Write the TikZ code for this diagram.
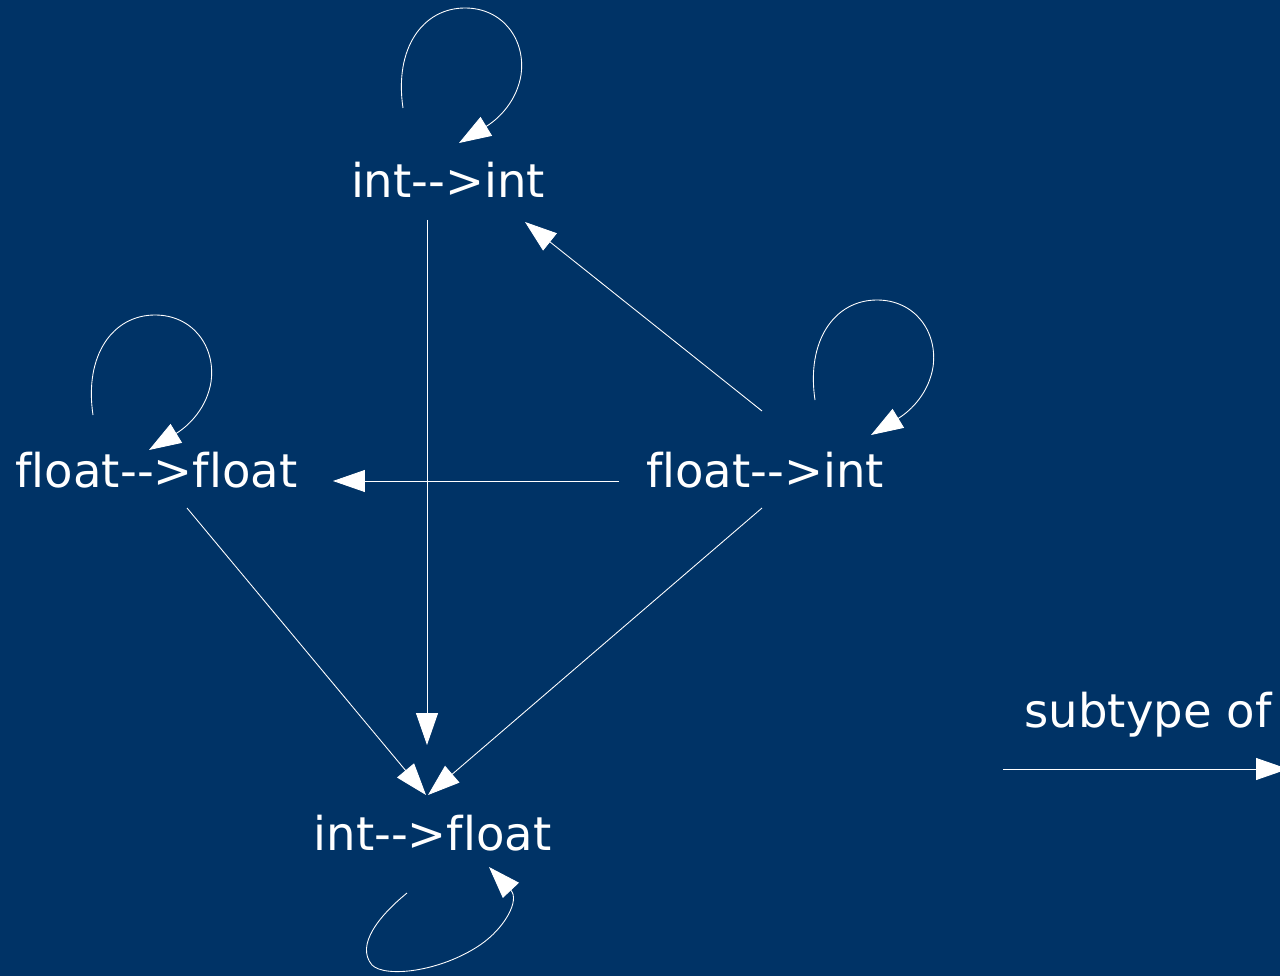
\documentclass[tikz,border=0pt]{standalone}
\usepackage{fontspec}
\setmainfont{DejaVu Sans}[Ligatures=NoCommon]
\usepackage{tikz}
\usetikzlibrary{arrows.meta}

\definecolor{navy}{RGB}{0,51,102}

\begin{document}
\begin{tikzpicture}[x=0.02cm, y=-0.02cm,
    typ/.style={text=white, inner sep=0pt, anchor=base, font=\fontsize{26.5}{30}\selectfont},
    edge/.style={draw=white, line width=0.5pt, -{Triangle[length=0.64cm, width=0.44cm]}}]
    \useasboundingbox (0,0) rectangle (1280,976);
    \fill[navy] (0,0) rectangle (1280,976);

    \node[typ] (ii) at (448,198) {int-{}->int};
    \node[typ] (ff) at (156.5,487) {float-{}->float};
    \node[typ] (fi) at (765,487) {float-{}->int};
    \node[typ] (if) at (432.5,850) {int-{}->float};
    \node[typ] (st) at (1148,727) {subtype of};

    % subtype edges
    \draw[edge] ([shift={(-21,22)}]ii.base) -- ([shift={(-5.5,-105)}]if.base);
    \draw[edge] ([shift={(-3,-76)}]fi.base) -- ([shift={(77,24)}]ii.base);
    \draw[edge] ([shift={(-146,-6)}]fi.base) -- ([shift={(176.5,-6)}]ff.base);
    \draw[edge] ([shift={(30.5,21)}]ff.base) -- ([shift={(-6.5,-55)}]if.base);
    \draw[edge] ([shift={(-3,21)}]fi.base) -- ([shift={(-4.5,-55)}]if.base);

    % self loops
    \draw[edge, shift={(ii.base)}] (-45,-90) .. controls (-54,-150) and (-25,-190) .. (17,-190)
        .. controls (55,-190) and (78,-158) .. (73,-123)
        .. controls (69,-98) and (52,-80) .. (11,-55);
    \draw[edge, shift={(ff.base)}] (-63.5,-72) .. controls (-72.5,-132) and (-43.5,-172) .. (-1.5,-172)
        .. controls (36.5,-172) and (59.5,-140) .. (54.5,-105)
        .. controls (50.5,-80) and (33.5,-62) .. (-7.5,-37);
    \draw[edge, shift={(fi.base)}] (50,-87) .. controls (41,-147) and (70,-187) .. (112,-187)
        .. controls (150,-187) and (173,-155) .. (168,-120)
        .. controls (164,-95) and (147,-77) .. (106,-52);
    \draw[edge, shift={(if.base)}] (-25.5,43) .. controls (-52.5,65) and (-77.5,95) .. (-60.5,115)
        .. controls (-47.5,128) and (7.5,122) .. (47.5,95)
        .. controls (72.5,78) and (87.5,50) .. (56.5,17);

    % legend
    \draw[edge] ([shift={(-145,42)}]st.base) -- ([shift={(140,42)}]st.base);
\end{tikzpicture}
\end{document}
